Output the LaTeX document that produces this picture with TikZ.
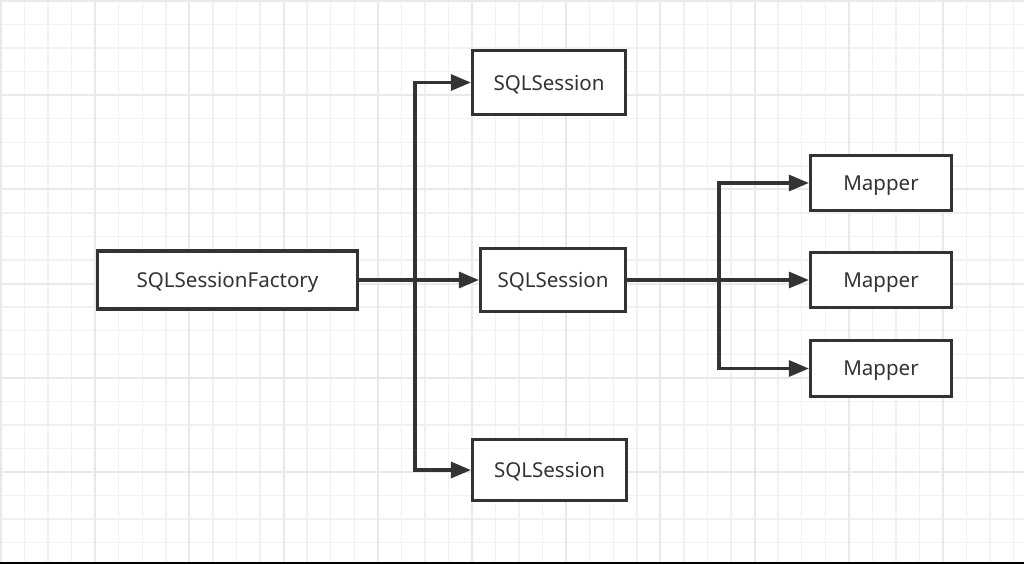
\documentclass[tikz,border=0pt]{standalone}
\usepackage{fontspec}
\setmainfont{Noto Sans}
\usepackage{tikz}
\usetikzlibrary{positioning, arrows.meta}

\definecolor{gridminor}{RGB}{241,241,241}
\definecolor{gridmajor}{RGB}{233,233,233}
\definecolor{ink}{RGB}{51,51,51}

\tikzset{
  box/.style={draw=ink, line width=2.4pt, fill=white, text=ink, inner sep=0pt,
    text depth=0pt, font=\fontsize{15.4}{18}\selectfont},
  link/.style={draw=ink, line width=2.3pt, -{Triangle[length=15pt,width=12pt]}},
}

\begin{document}
\begin{tikzpicture}[x=0.75pt,y=0.75pt,yscale=-1,xscale=1]
\useasboundingbox (0,0) rectangle (1024,564);
\fill[white] (0,0) rectangle (1024,564);

% grid
\foreach \i in {0,...,43} {
  \draw[gridminor, line width=1.1pt] ({1+23.55*\i},0) -- ({1+23.55*\i},564);
}
\foreach \j in {0,...,23} {
  \draw[gridminor, line width=1.1pt] (0,{1+23.55*\j}) -- (1024,{1+23.55*\j});
}
\foreach \i in {0,...,10} {
  \draw[gridmajor, line width=1.4pt] ({1+94.2*\i},0) -- ({1+94.2*\i},564);
}
\foreach \j in {0,...,5} {
  \draw[gridmajor, line width=1.4pt] (0,{1+94.2*\j}) -- (1024,{1+94.2*\j});
}
\draw[black, line width=1.5pt] (0,563) -- (1024,563);

% nodes
\node[box, minimum width=195pt, minimum height=43.5pt] (factory) at (227.5,280) {SQLSessionFactory};
\node[box, minimum width=114.75pt, minimum height=48pt] (session1) at (549,82.5) {SQLSession};
\node[box, minimum width=108.75pt, minimum height=47.25pt] (session2) at (553,280) {SQLSession};
\node[box, minimum width=115.5pt, minimum height=45.75pt] (session3) at (549.5,470) {SQLSession};
\node[box, minimum width=105.75pt, minimum height=41.25pt] (mapper1) at (881,183) {Mapper};
\node[box, minimum width=105.75pt, minimum height=41.25pt] (mapper2) at (881,280) {Mapper};
\node[box, minimum width=105.75pt, minimum height=42pt] (mapper3) at (881,368.5) {Mapper};

% split points
\coordinate (fork1) at (415,280);
\coordinate (fork2) at (719,280);

% connectors
\draw[link] (factory.east) -- (session2.west);
\draw[link] (fork1) |- (session1.west);
\draw[link] (fork1) |- (session3.west);
\draw[link] (session2.east) -- (mapper2.west);
\draw[link] (fork2) |- (mapper1.west);
\draw[link] (fork2) |- (mapper3.west);
\end{tikzpicture}
\end{document}
